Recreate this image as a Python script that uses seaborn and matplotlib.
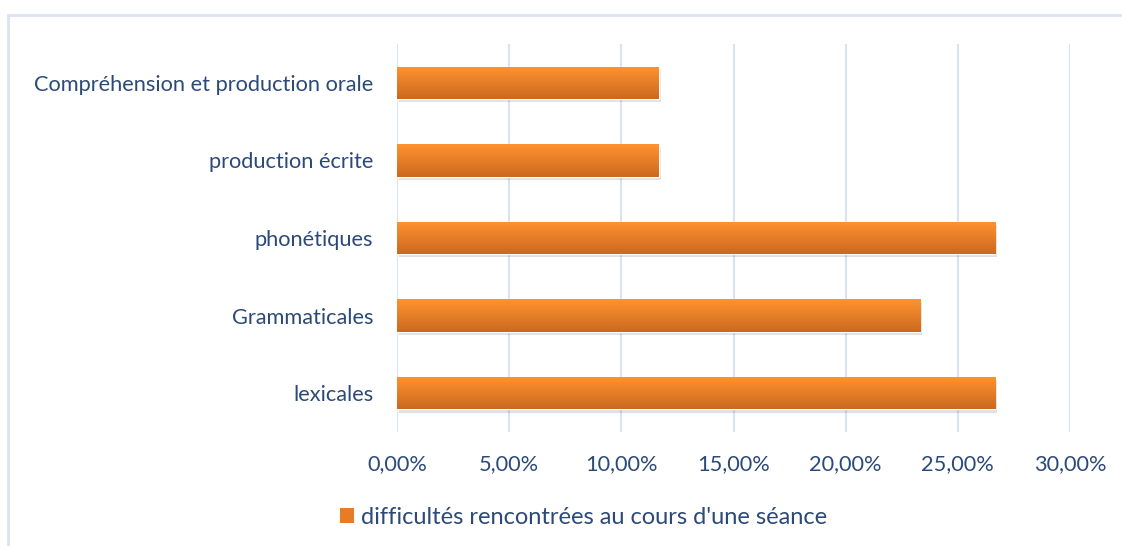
import numpy as np
import pandas as pd
import matplotlib
matplotlib.use('Agg')
import matplotlib.pyplot as plt
import matplotlib.patches as mpatches
from matplotlib.colors import LinearSegmentedColormap
import seaborn as sns

# ── Data ──────────────────────────────────────────────────────────────────────
categories = ['Compréhension et production orale', 'production écrite',
              'phonétiques', 'Grammaticales', 'lexicales']
values = [11.67, 11.67, 26.67, 23.33, 26.67]
series_name = "difficultés rencontrées au cours d'une séance"
xticks = [0, 5, 10, 15, 20, 25, 30]
xtick_labels = ['0,00%', '5,00%', '10,00%', '15,00%', '20,00%', '25,00%', '30,00%']

TEXT = '#2C4A78'
GRID = '#D9E3F1'
ORANGE_TOP = '#FF932F'
ORANGE_BOT = '#CC691F'

sns.set_theme(style='white')
plt.rcParams['font.family'] = ['Lato', 'DejaVu Sans']

df = pd.DataFrame({'cat': categories, 'val': values})

fig = plt.figure(figsize=(11.22, 5.46), dpi=100)
ax = fig.add_axes([0.3538, 0.2088, 0.5999, 0.7106])

sns.barplot(data=df, y='cat', x='val', orient='h', color=ORANGE_TOP,
            width=0.42, ax=ax, zorder=3)

# gradient + soft shadow on every bar
cmap = LinearSegmentedColormap.from_list('og', [ORANGE_TOP, ORANGE_BOT])
grad = np.linspace(0, 1, 100).reshape(-1, 1)
for bar in list(ax.patches):
    x0, y0 = bar.get_x(), bar.get_y()
    w, h = bar.get_width(), bar.get_height()
    shadow = mpatches.Rectangle((x0 + 0.08, y0 + 0.04), w, h, color='#000000',
                                alpha=0.12, zorder=2, lw=0)
    ax.add_patch(shadow)
    im = ax.imshow(grad, cmap=cmap, aspect='auto', extent=(x0, x0 + w, y0 + h, y0),
                   zorder=4, interpolation='bilinear')
    im.set_clip_path(bar)

ax.set_xlim(0, 30)
ax.set_ylim(4.5, -0.5)
ax.set_xticks(xticks)
ax.set_xticklabels(xtick_labels)
ax.set_xlabel('')
ax.set_ylabel('')
ax.grid(axis='x', color=GRID, linewidth=1.5, zorder=0)
ax.grid(axis='y', visible=False)
for s in ax.spines.values():
    s.set_visible(False)
ax.tick_params(axis='both', length=0, labelsize=15.7, colors=TEXT)
ax.tick_params(axis='x', pad=16)
ax.tick_params(axis='y', pad=17)

# legend
handle = mpatches.Patch(facecolor='#E77B26', edgecolor='none', label=series_name)
fig.legend(handles=[handle], loc='center', bbox_to_anchor=(0.52, 0.052), frameon=False,
           fontsize=17, labelcolor=TEXT, handlelength=0.6, handleheight=0.6,
           handletextpad=0.3)

# outer chart border
border = mpatches.Rectangle((8 / 1122, -0.05), 1.2, 1 - 15 / 546 + 0.05,
                            transform=fig.transFigure, fill=False,
                            edgecolor=GRID, linewidth=2)
fig.patches.append(border)

fig.savefig('out.png', dpi=100)
